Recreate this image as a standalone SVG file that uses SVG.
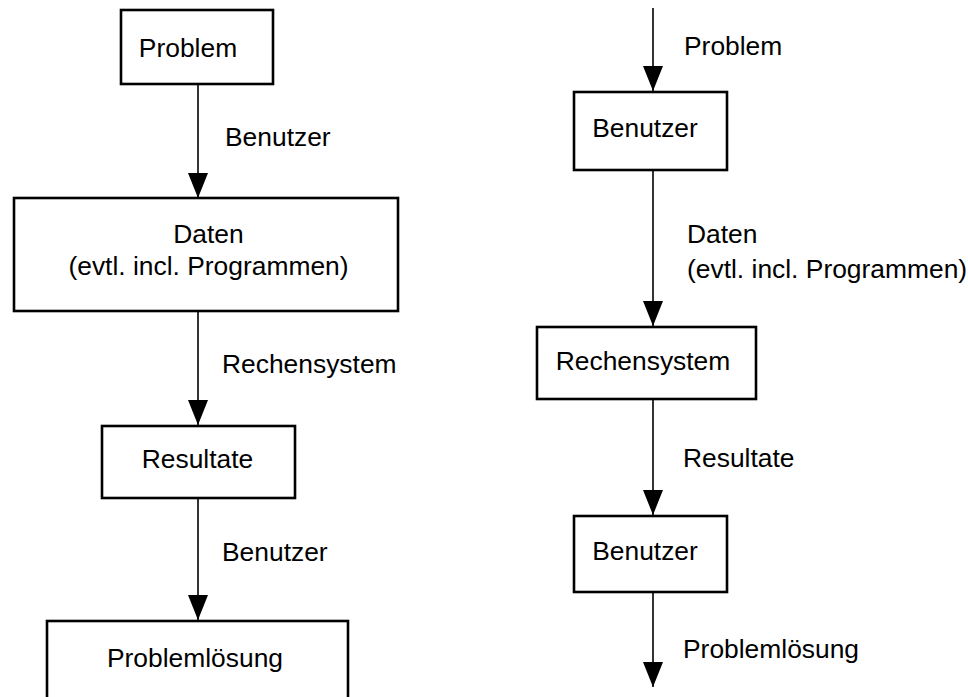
<svg xmlns="http://www.w3.org/2000/svg" width="968" height="697" viewBox="0 0 968 697">
<style>
  .box { fill: #ffffff; stroke: #000000; stroke-width: 2.6; }
  .conn { fill: none; stroke: #000000; stroke-width: 1.6; marker-end: url(#arrow); }
  text { font-family: "Liberation Sans", Arial, Helvetica, sans-serif; font-size: 26.4px; fill: #000000; }
  .mid { text-anchor: middle; }
</style>
<defs>
  <marker id="arrow" viewBox="0 0 25 20" refX="25" refY="10" markerWidth="25" markerHeight="20" markerUnits="userSpaceOnUse" orient="auto">
    <path d="M0,0 L25,10 L0,20 z" fill="#000000"/>
  </marker>
</defs>
<rect width="968" height="697" fill="#ffffff"/>

<g id="connectors">
  <line class="conn" x1="198" y1="84" x2="198" y2="198"/>
  <line class="conn" x1="198" y1="311" x2="198" y2="425"/>
  <line class="conn" x1="198" y1="498" x2="198" y2="620"/>
  <line class="conn" x1="653" y1="8" x2="653" y2="91"/>
  <line class="conn" x1="653" y1="170" x2="653" y2="326"/>
  <line class="conn" x1="653" y1="399" x2="653" y2="515"/>
  <line class="conn" x1="653" y1="592" x2="653" y2="687"/>
</g>

<g id="labels">
  <text x="225" y="146">Benutzer</text>
  <text x="222" y="373">Rechensystem</text>
  <text x="222" y="561">Benutzer</text>
  <text x="684" y="55">Problem</text>
  <text x="687" y="243">Daten</text>
  <text x="687" y="278">(evtl. incl. Programmen)</text>
  <text x="683" y="467">Resultate</text>
  <text x="683" y="658">Problemlösung</text>
</g>

<g id="l-problem">
  <rect class="box" x="121" y="10" width="152" height="74"/>
  <text class="mid" x="188" y="57">Problem</text>
</g>
<g id="l-daten">
  <rect class="box" x="14" y="198" width="384" height="113"/>
  <text class="mid" x="208.5" y="243">Daten</text>
  <text class="mid" x="208.5" y="275">(evtl. incl. Programmen)</text>
</g>
<g id="l-resultate">
  <rect class="box" x="102" y="426" width="193" height="72"/>
  <text class="mid" x="197.5" y="468">Resultate</text>
</g>
<g id="l-problemloesung">
  <rect class="box" x="47" y="621" width="301" height="82"/>
  <text class="mid" x="195" y="667">Problemlösung</text>
</g>

<g id="r-benutzer1">
  <rect class="box" x="574" y="92" width="153" height="78"/>
  <text class="mid" x="645" y="137">Benutzer</text>
</g>
<g id="r-rechensystem">
  <rect class="box" x="537" y="327" width="219" height="72"/>
  <text class="mid" x="643" y="370">Rechensystem</text>
</g>
<g id="r-benutzer2">
  <rect class="box" x="574" y="516" width="153" height="76"/>
  <text class="mid" x="645" y="560">Benutzer</text>
</g>
</svg>
